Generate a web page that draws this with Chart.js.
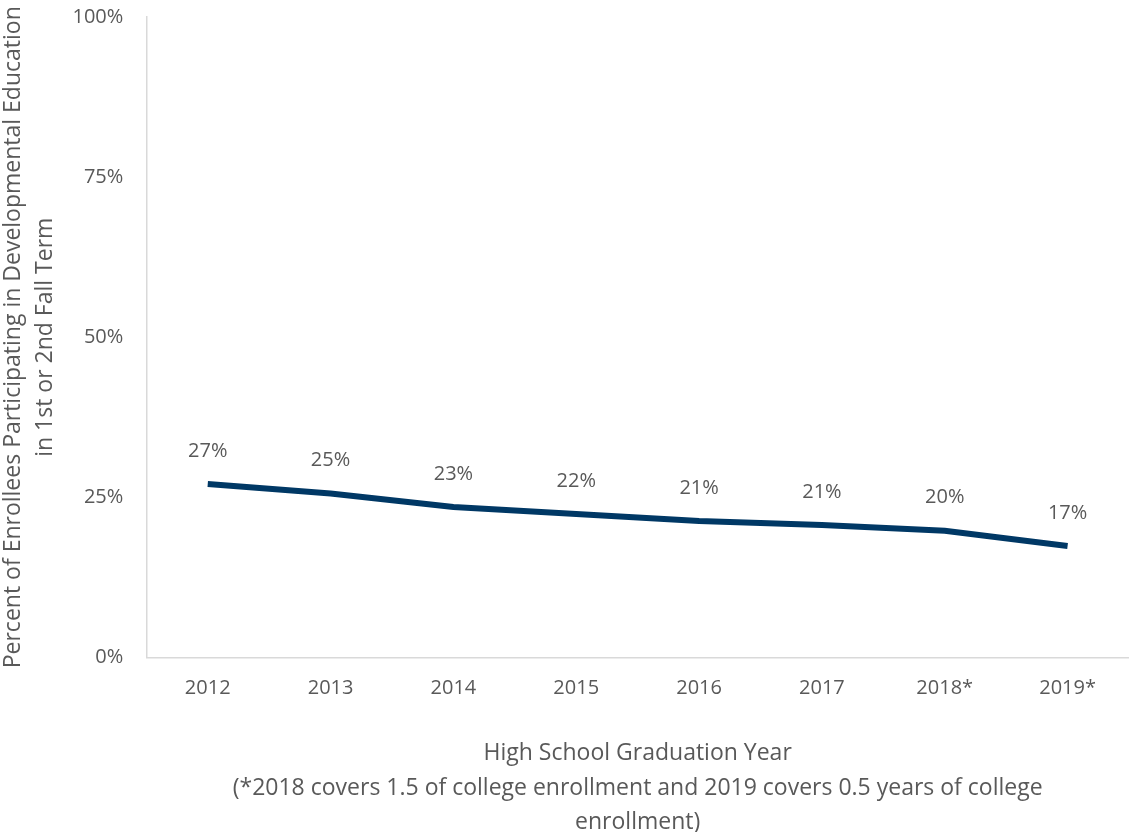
<!DOCTYPE html>
<html>
<head>
<meta charset="utf-8">
<script src="https://cdn.jsdelivr.net/npm/chart.js@4"></script>
<style>
  html, body { margin: 0; padding: 0; background: #fff; }
  #wrap { width: 1129px; height: 832px; }
</style>
</head>
<body>
<div id="wrap"><canvas id="devEdChart"></canvas></div>
<script>
// Chart data
const years = ['2012', '2013', '2014', '2015', '2016', '2017', '2018*', '2019*'];
const devEdPercent = [27.1, 25.6, 23.5, 22.4, 21.3, 20.7, 19.8, 17.4];
const devEdLabels = ['27%', '25%', '23%', '22%', '21%', '21%', '20%', '17%'];
const yTicks = [0, 25, 50, 75, 100];

const textColor = '#595959';
const fontFamily = '"Open Sans", "Noto Sans", sans-serif';

// simple value labels above each point
const pointLabels = {
    id: 'pointLabels',
    afterDatasetsDraw(chart) {
        const ctx = chart.ctx;
        const meta = chart.getDatasetMeta(0);
        ctx.save();
        ctx.font = '20px ' + fontFamily;
        ctx.fillStyle = textColor;
        ctx.textAlign = 'center';
        ctx.textBaseline = 'middle';
        meta.data.forEach((pt, i) => {
            ctx.fillText(devEdLabels[i], pt.x, pt.y - 33);
        });
        ctx.restore();
    }
};

new Chart(document.getElementById('devEdChart'), {
    type: 'line',
    data: {
        labels: years,
        datasets: [{
            data: devEdPercent,
            borderColor: '#003865',
            borderWidth: 6,
            pointRadius: 0,
            tension: 0,
            fill: false
        }]
    },
    plugins: [pointLabels],
    options: {
        responsive: true,
        maintainAspectRatio: false,
        animation: false,
        layout: { padding: { top: 0, right: 0, left: 0, bottom: -8 } },
        plugins: {
            legend: { display: false },
            tooltip: { enabled: false }
        },
        scales: {
            x: {
                offset: true,
                grid: { display: false, drawTicks: false },
                border: { color: '#d9d9d9', width: 1.5 },
                ticks: { color: textColor, font: { family: fontFamily, size: 20 }, padding: 19, maxRotation: 0 },
                title: {
                    display: true,
                    text: ['High School Graduation Year',
                        '(*2018 covers 1.5 of college enrollment and 2019 covers 0.5 years of college',
                        'enrollment)'],
                    color: textColor,
                    font: { family: fontFamily, size: 23, lineHeight: 1.5 },
                    padding: { top: 17, bottom: 0 }
                }
            },
            y: {
                min: 0,
                max: 100,
                afterBuildTicks: axis => { axis.ticks = yTicks.map(v => ({ value: v })); },
                // tick padding would otherwise push the plot top down
                afterFit: axis => { axis.paddingTop = 17; axis.paddingBottom = 12; },
                grid: { display: false, drawTicks: false },
                border: { color: '#d9d9d9', width: 1.5 },
                ticks: {
                    color: textColor,
                    font: { family: fontFamily, size: 20 },
                    padding: 23,
                    callback: v => v + '%'
                },
                title: {
                    display: true,
                    text: ['Percent of Enrollees Participating in Developmental Education',
                        'in 1st or 2nd Fall Term'],
                    color: textColor,
                    font: { family: fontFamily, size: 23, lineHeight: 1.38 },
                    padding: { top: -2, bottom: -12 }
                }
            }
        }
    }
});
</script>
</body>
</html>
